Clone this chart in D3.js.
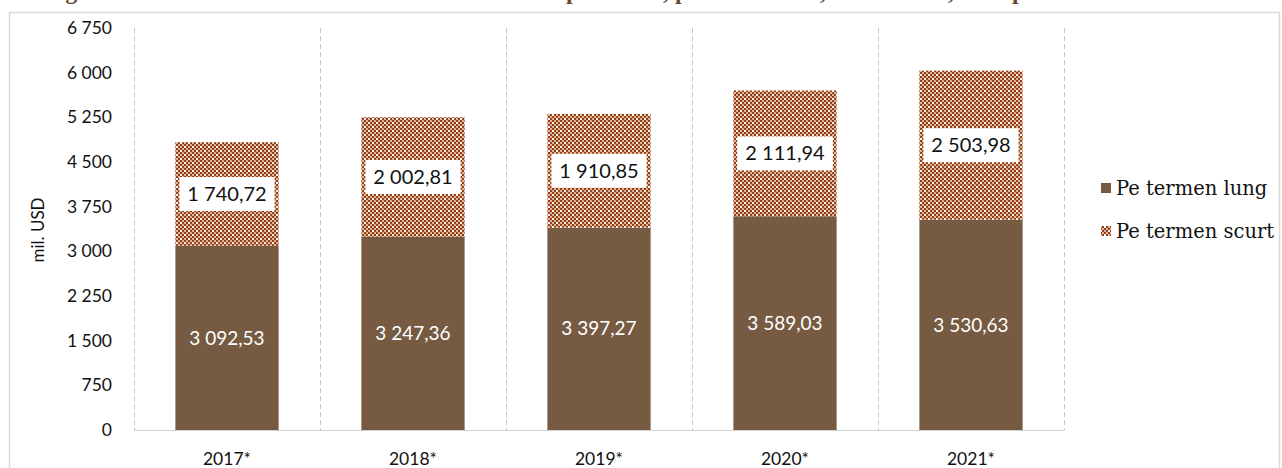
<!DOCTYPE html>
<html><head><meta charset="utf-8">
<script src="https://cdn.jsdelivr.net/npm/d3@7"></script>
<style>body{margin:0;background:#fff;overflow:hidden}svg{display:block}</style>
</head><body>
<script>
const years = ["2017*","2018*","2019*","2020*","2021*"];
const longTerm = [3092.53, 3247.36, 3397.27, 3589.03, 3530.63];
const shortTerm = [1740.72, 2002.81, 1910.85, 2111.94, 2503.98];
const yTicks = [0,750,1500,2250,3000,3750,4500,5250,6000,6750];
const seriesNames = ["Pe termen lung","Pe termen scurt"];

const W=1282,H=468;
const svg=d3.select("body").append("svg").attr("width",W).attr("height",H);
const defs=svg.append("defs");
const pat=defs.append("pattern").attr("id","chk").attr("patternUnits","userSpaceOnUse").attr("width",8).attr("height",8);
pat.append("rect").attr("width",8).attr("height",8).attr("fill","#e2b694");
[[0,0],[4,0],[2,2],[6,2],[0,4],[4,4],[2,6],[6,6]].forEach(([x,y])=>pat.append("rect").attr("x",x).attr("y",y).attr("width",2).attr("height",2).attr("fill","#93401a"));
pat.append("rect").attr("x",0).attr("y",2).attr("width",2).attr("height",2).attr("fill","#fff");
pat.append("rect").attr("x",4).attr("y",6).attr("width",2).attr("height",2).attr("fill","#fff");

const loc=d3.formatLocale({decimal:",",thousands:" ",grouping:[3],currency:["",""]});
const f2=loc.format(",.2f"), f0=loc.format(",.0f");

// title (cut off at top, only descenders visible as in the reference)
const title=svg.append("text").attr("y",-1).attr("fill","#6b4a33").attr("font-family","Liberation Serif").attr("font-weight","bold").attr("font-size",24);
title.append("tspan").attr("x",44).text("Figura 12. Datoria externă brută a sectorului");
title.append("tspan").attr("x",566).text("privat");
title.append("tspan").attr("x",663).text(", pe termene");
title.append("tspan").attr("x",820).text(", mil. USD");
title.append("tspan").attr("x",948).text(",");
title.append("tspan").attr("x",1012).text("perioadă");

// frame
svg.append("rect").attr("x",9.5).attr("y",12.5).attr("width",1270).attr("height",470).attr("fill","none").attr("stroke","#d9d9d9").attr("stroke-width",1.5);

const x=d3.scaleBand().domain(years).range([134,1064]).paddingInner(0).paddingOuter(0);
const y=d3.scaleLinear().domain([0,6750]).range([430,28]);
const bw=x.bandwidth()*0.555;

// dashed separators
const bounds=years.map(d=>x(d)).concat([x.range()[1]]);
svg.append("g").selectAll("line").data(bounds).join("line")
 .attr("x1",d=>Math.round(d)+0.5).attr("x2",d=>Math.round(d)+0.5).attr("y1",y(6750)).attr("y2",y(0))
 .attr("stroke","#c8c8c8").attr("stroke-dasharray","5,3");
svg.append("line").attr("x1",134).attr("x2",1064).attr("y1",430.5).attr("y2",430.5).attr("stroke","#d0d0d0");

// y axis labels
svg.append("g").selectAll("text").data(yTicks).join("text")
 .attr("x",112).attr("y",d=>y(d)).attr("dy","0.35em").attr("text-anchor","end")
 .attr("font-family","Lato").attr("font-size",17.5).attr("fill","#111").text(d=>f0(d));
svg.append("text").attr("transform","translate(44,230) rotate(-90)").attr("text-anchor","middle")
 .attr("font-family","Lato").attr("font-size",17).attr("fill","#111").text("mil. USD");

// x labels
svg.append("g").selectAll("text").data(years).join("text")
 .attr("x",d=>x(d)+x.bandwidth()/2).attr("y",465).attr("text-anchor","middle")
 .attr("font-family","Lato").attr("font-size",17.5).attr("fill","#111").text(d=>d);

const data=years.map((d,i)=>({year:d,l:longTerm[i],s:shortTerm[i]}));
const g=svg.append("g");
g.selectAll("rect.l").data(data).join("rect").attr("class","l")
 .attr("x",d=>x(d.year)+(x.bandwidth()-bw)/2).attr("width",bw)
 .attr("y",d=>y(d.l)).attr("height",d=>y(0)-y(d.l)).attr("fill","#765b42");
g.selectAll("rect.s").data(data).join("rect").attr("class","s")
 .attr("x",d=>x(d.year)+(x.bandwidth()-bw)/2).attr("width",bw)
 .attr("y",d=>y(d.l+d.s)).attr("height",d=>y(d.l)-y(d.l+d.s)).attr("fill","url(#chk)");

g.selectAll("text.ll").data(data).join("text").attr("class","ll")
 .attr("x",d=>x(d.year)+x.bandwidth()/2).attr("y",d=>(y(0)+y(d.l))/2).attr("dy","0.35em")
 .attr("text-anchor","middle").attr("font-family","Lato").attr("font-size",19).attr("fill","#fff").text(d=>f2(d.l));
data.forEach(d=>{
  const cx=x(d.year)+x.bandwidth()/2, cy=(y(d.l)+y(d.l+d.s))/2;
  const r=g.append("rect").attr("fill","#fff");
  const t=g.append("text").attr("x",cx).attr("y",cy).attr("dy","0.35em").attr("text-anchor","middle")
   .attr("font-family","Lato").attr("font-size",20).attr("fill","#111").text(f2(d.s));
  const bb=t.node().getBBox();
  r.attr("x",cx-bb.width/2-8).attr("y",cy-17).attr("width",bb.width+16).attr("height",34);
});

// legend
const lg=svg.append("g");
const items=[{n:seriesNames[0],f:"#765b42",y:188},{n:seriesNames[1],f:"url(#chk)",y:231}];
items.forEach(it=>{
  lg.append("rect").attr("x",1101).attr("y",it.y-5).attr("width",10).attr("height",10).attr("fill",it.f);
  lg.append("text").attr("x",1116).attr("y",it.y).attr("dy","0.35em").attr("font-family","DejaVu Serif").attr("font-size",19.5).attr("fill","#111").text(it.n);
});
</script>
</body></html>
